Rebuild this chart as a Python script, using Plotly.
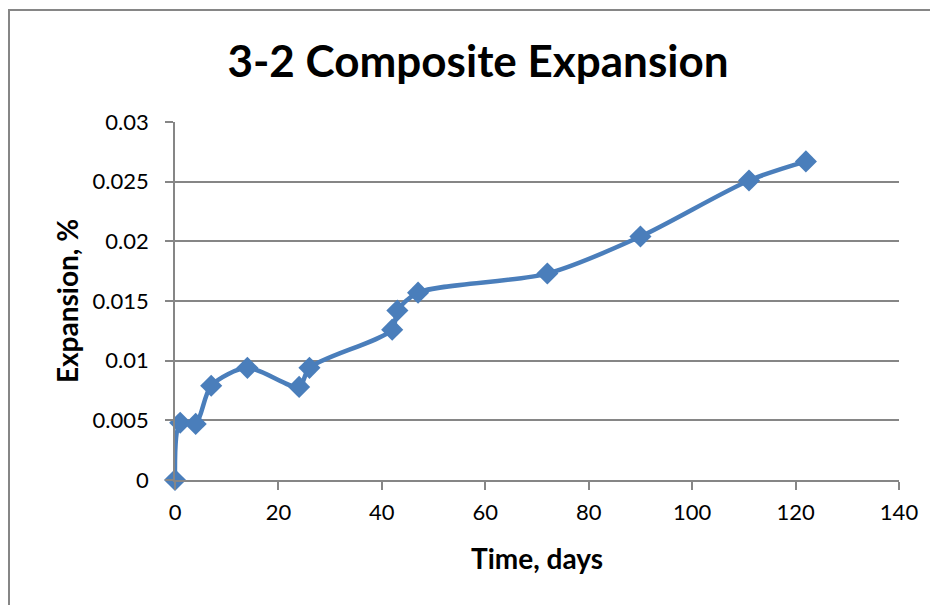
import plotly.graph_objects as go

time_days = [0, 1, 4, 7, 14, 24, 26, 42, 43, 47, 72, 90, 111, 122]
expansion_pct = [0.0, 0.0048, 0.0047, 0.0079, 0.0094, 0.0078, 0.0094, 0.0126,
                 0.0142, 0.0157, 0.0173, 0.0204, 0.0251, 0.0267]

title_text = "3-2 Composite Expansion"
x_title = "Time, days"
y_title = "Expansion, %"
x_ticks = [0, 20, 40, 60, 80, 100, 120, 140]
y_ticks = [0, 0.005, 0.01, 0.015, 0.02, 0.025, 0.03]
y_tick_labels = ["0", "0.005", "0.01", "0.015", "0.02", "0.025", "0.03"]

FONT = "Lato"
GRID = "#868686"
BLUE = "#4A7EBB"

# page has an 8px body margin, so the figure is drawn 8px smaller
W, H = 930, 597
L, R, T, B = 167, 39, 114, 125
PW, PH = W - L - R, H - T - B

fig = go.Figure()
fig.add_trace(go.Scatter(
    x=time_days, y=expansion_pct, mode="lines+markers",
    line=dict(color=BLUE, width=4.5, shape="spline", smoothing=0.8),
    marker=dict(symbol="diamond", size=17, color=BLUE),
    showlegend=False, cliponaxis=False,
))

fig.update_layout(
    width=W, height=H,
    margin=dict(l=L, r=R, t=T, b=B),
    paper_bgcolor="white", plot_bgcolor="white",
    font=dict(family=FONT, color="black", size=22),
    title=dict(text=title_text, x=470 / W, xref="container", xanchor="center",
               y=1 - 54/H, yanchor="middle",
               font=dict(family=FONT, size=44, color="black", weight="bold")),
    xaxis=dict(range=[0, 140], tickvals=x_ticks, showgrid=False, zeroline=False,
               showline=True, linecolor=GRID, linewidth=1.5,
               ticks="outside", ticklen=8, tickcolor=GRID, tickwidth=1.5,
               tickfont=dict(size=22, family=FONT), ticklabelstandoff=4,
               title=dict(text=x_title, font=dict(size=28, family=FONT, weight="bold"), standoff=25)),
    yaxis=dict(range=[0, 0.03], tickvals=y_ticks, ticktext=y_tick_labels,
               showgrid=True, gridcolor=GRID, gridwidth=1.5, zeroline=False,
               showline=True, linecolor=GRID, linewidth=1.5,
               ticks="outside", ticklen=8, tickcolor=GRID, tickwidth=1.5,
               tickfont=dict(size=22, family=FONT), ticklabelstandoff=12,
               title=dict(text=y_title, font=dict(size=28, family=FONT, weight="bold"), standoff=6)),
)

fig.add_shape(type="rect", xref="paper", yref="paper",
              x0=(1 - L) / PW, x1=(W + 20 - L) / PW,
              y0=(PH + T - (H + 20)) / PH, y1=(PH + T - 2) / PH,
              line=dict(color=GRID, width=2), fillcolor="rgba(0,0,0,0)", layer="below")

fig.write_html("out.html")
